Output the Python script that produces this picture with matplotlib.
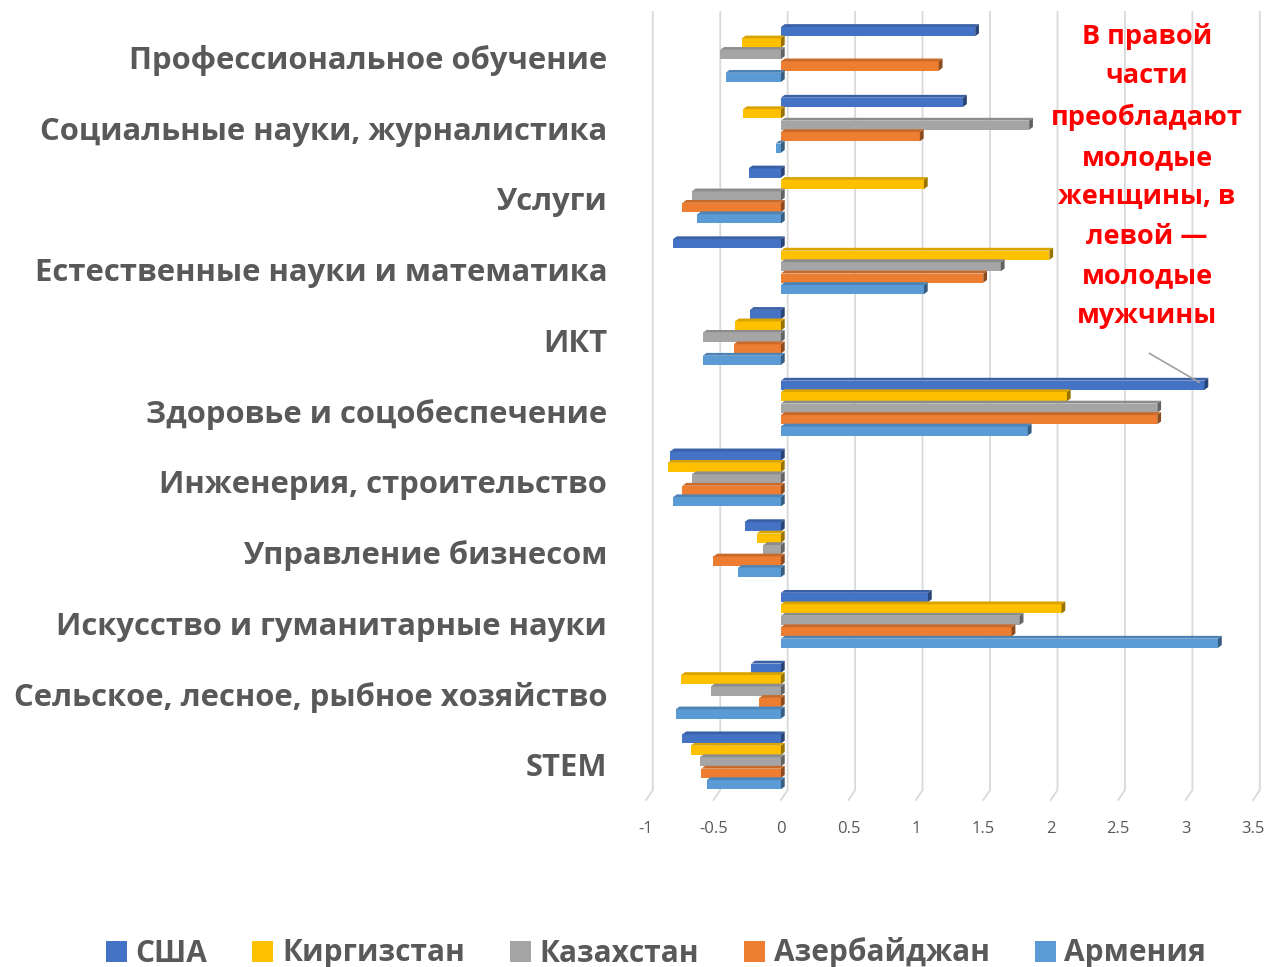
import numpy as np
import matplotlib
matplotlib.use('Agg')
import matplotlib.pyplot as plt
from matplotlib.patches import Polygon
from matplotlib.colors import to_rgb

plt.rcParams['font.family'] = ['Open Sans', 'DejaVu Sans']

# categories bottom -> top
categories = ['STEM', 'Сельское, лесное, рыбное хозяйство', 'Искусство и гуманитарные науки',
              'Управление бизнесом', 'Инженерия, строительство', 'Здоровье и соцобеспечение',
              'ИКТ', 'Естественные науки и математика', 'Услуги',
              'Социальные науки, журналистика', 'Профессиональное обучение']
series = ['США', 'Киргизстан', 'Казахстан', 'Азербайджан', 'Армения']
colors = ['#4472C4', '#FFC000', '#A5A5A5', '#ED7D31', '#5B9BD5']

usa = [-0.73, -0.22, 1.09, -0.27, -0.82, 3.14, -0.23, -0.80, -0.24, 1.35, 1.44]
kyrgyzstan = [-0.67, -0.74, 2.08, -0.18, -0.84, 2.12, -0.34, 1.99, 1.06, -0.28, -0.29]
kazakhstan = [-0.60, -0.52, 1.77, -0.13, -0.66, 2.79, -0.58, 1.63, -0.66, 1.84, -0.45]
azerbaijan = [-0.59, -0.16, 1.71, -0.50, -0.73, 2.79, -0.35, 1.50, -0.73, 1.03, 1.17]
armenia = [-0.55, -0.78, 3.24, -0.32, -0.80, 1.83, -0.58, 1.06, -0.62, -0.04, -0.41]
values = [usa, kyrgyzstan, kazakhstan, azerbaijan, armenia]

ticks = np.arange(-1, 3.51, 0.5)
tick_labels = ['-1', '-0.5', '0', '0.5', '1', '1.5', '2', '2.5', '3', '3.5']

note = 'В правой\nчасти\nпреобладают\nмолодые\nженщины, в\nлевой —\nмолодые\nмужчины'


def shade(c, f):
    r, g, b = to_rgb(c)
    return (r * f, g * f, b * f)


fig = plt.figure(figsize=(12.67, 9.67), dpi=100)
ax = fig.add_axes([0.5099, 0.1727, 0.4791, 0.8046])
ax.set_xlim(-1, 3.5)
ax.set_ylim(-0.5, 10.5)

step = 0.162
face = 0.13
dx, dy = 0.028, 0.04
gx = 0.05

# back-wall gridlines with slanted floor part
for t in ticks:
    ax.plot([t + gx, t + gx, t], [10.64, -0.36, -0.5], color='#D9D9D9', lw=1.3,
            clip_on=False, zorder=0)

y = np.arange(len(categories))
for j, (name, vals, c) in enumerate(zip(series, values, colors)):
    yc = y + 0.06 + (2 - j) * step - dy / 2
    ax.barh(yc, vals, height=face, color=c, label=name, zorder=2 + j)
    for yy, v in zip(yc, vals):
        x0, x1 = min(0, v), max(0, v)
        top, bot = yy + face / 2, yy - face / 2
        ax.add_patch(Polygon([(x0, top), (x1, top), (x1 + dx, top + dy), (x0 + dx, top + dy)],
                             closed=True, color=shade(c, 0.85), lw=0, zorder=2 + j))
        ax.add_patch(Polygon([(x1, bot), (x1 + dx, bot + dy), (x1 + dx, top + dy), (x1, top)],
                             closed=True, color=shade(c, 0.6), lw=0, zorder=2 + j))

for s in ax.spines.values():
    s.set_visible(False)
ax.set_xticks(ticks)
ax.set_xticklabels(tick_labels)
ax.set_yticks(y)
ax.set_yticklabels(categories)
ax.tick_params(axis='x', length=0, pad=15, labelsize=12, labelcolor='#595959')
ax.tick_params(axis='y', length=0, pad=28, labelsize=22.3, labelcolor='#595959')
for lab in ax.get_yticklabels():
    lab.set_fontweight('bold')

fig.text(1147 / 1267, 1 - 176 / 967, note, ha='center', va='center', color='#FF0000',
         fontsize=19.5, fontweight='bold', linespacing=1.68)
ax.annotate('', xy=(3.12, 5 + 0.06 + 2 * step), xycoords='data',
            xytext=(1147, 967 - 352), textcoords='figure pixels',
            arrowprops=dict(arrowstyle='-', color='#A0A0A0', lw=1.2))

leg = fig.legend(loc='center', bbox_to_anchor=(656 / 1267, 1 - 953 / 967), ncol=5,
                 frameon=False, fontsize=21.5, handlelength=0.7, handleheight=0.7,
                 handletextpad=0.3, columnspacing=1.5)
for t in leg.get_texts():
    t.set_color('#595959')
    t.set_fontweight('bold')

fig.savefig('out.png', dpi=100)
